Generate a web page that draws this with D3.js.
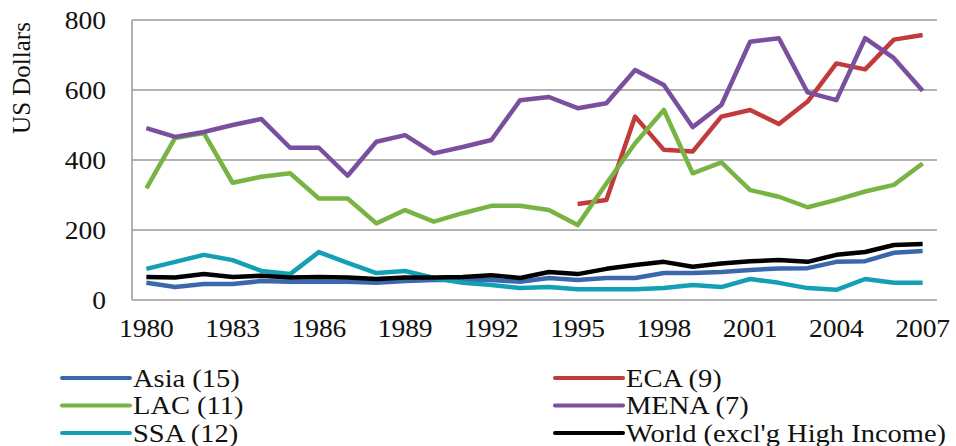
<!DOCTYPE html>
<html>
<head>
<meta charset="utf-8">
<script src="https://cdn.jsdelivr.net/npm/d3@7"></script>
<style>
  body { margin: 0; background: #fff; }
</style>
</head>
<body>
<div id="chart"></div>
<script>
// Years on the category axis
const years = d3.range(1980, 2008);
const tickYears = [1980, 1983, 1986, 1989, 1992, 1995, 1998, 2001, 2004, 2007];
const yTicks = [0, 200, 400, 600, 800];

// Series values (US dollars)
const asia = [49, 37, 46, 46, 54, 52, 52, 52, 49, 54, 57, 57, 57, 52, 63, 57, 63, 63, 77, 77, 80, 86, 90, 91, 109, 111, 135, 140];
const eca = [null, null, null, null, null, null, null, null, null, null, null, null, null, null, null,
             274, 286, 524, 429, 424, 524, 543, 503, 567, 676, 659, 744, 757];
const lac = [319, 463, 477, 335, 352, 362, 290, 290, 219, 257, 224, 248, 269, 269, 257, 214, 333, 448, 543, 362, 393, 314, 295, 265, 286, 310, 329, 390];
const mena = [491, 466, 480, 500, 517, 435, 435, 355, 452, 471, 419, 437, 457, 571, 580, 548, 562, 657, 614, 494, 557, 738, 748, 593, 571, 748, 691, 598];
const ssa = [89, 109, 129, 114, 83, 74, 137, 106, 77, 83, 63, 49, 43, 34, 37, 31, 31, 31, 34, 43, 37, 60, 49, 34, 29, 60, 49, 49];
const world = [66, 64, 74, 66, 69, 64, 66, 64, 60, 64, 64, 66, 71, 63, 80, 74, 89, 100, 109, 95, 104, 111, 114, 109, 129, 137, 157, 160];

const seriesNames = ["Asia (15)", "ECA (9)", "LAC (11)", "MENA (7)", "SSA (12)", "World (excl'g High Income)"];
const seriesColors = ["#3a68ac", "#c23a3b", "#77b443", "#7a4f9e", "#14a0b4", "#000000"];

const series = [asia, eca, lac, mena, ssa, world].map((vals, i) => ({
    name: seriesNames[i],
    color: seriesColors[i],
    values: vals
}));

const width = 956;
const height = 446;
const margin = { left: 132, right: 19, top: 20, bottom: 146 };
const FONT = "Times New Roman, Times, Liberation Serif, Tinos, DejaVu Serif, serif";
const STRETCH = 1.1; // the original text is a little wider than it is tall

const svg = d3.select("#chart").append("svg")
    .attr("width", width)
    .attr("height", height);

// Category scale: points sit in the middle of each year's band
const x = d3.scalePoint()
    .domain(years)
    .range([margin.left, width - margin.right])
    .padding(0.5);

const y = d3.scaleLinear()
    .domain([0, 800])
    .range([height - margin.bottom, margin.top]);

// Gridlines
svg.append("g")
    .selectAll("line")
    .data(yTicks)
    .enter()
    .append("line")
    .attr("x1", margin.left)
    .attr("x2", width - margin.right)
    .attr("y1", d => y(d))
    .attr("y2", d => y(d))
    .attr("stroke", "#9a9a9a")
    .attr("stroke-width", 1.5);

// Left axis line
svg.append("line")
    .attr("x1", margin.left)
    .attr("x2", margin.left)
    .attr("y1", y(800))
    .attr("y2", y(0))
    .attr("stroke", "#9a9a9a")
    .attr("stroke-width", 1.5);

// Y tick labels
svg.append("g")
    .selectAll("text")
    .data(yTicks)
    .enter()
    .append("text")
    .attr("transform", d => `translate(106,${y(d)}) scale(${STRETCH},1)`)
    .attr("dy", "0.35em")
    .attr("text-anchor", "end")
    .style("font-family", FONT)
    .style("font-size", "25px")
    .attr("fill", "#111")
    .text(d => d);

// X tick labels
svg.append("g")
    .selectAll("text")
    .data(tickYears)
    .enter()
    .append("text")
    .attr("transform", d => `translate(${x(d)},337) scale(${STRETCH},1)`)
    .attr("text-anchor", "middle")
    .style("font-family", FONT)
    .style("font-size", "25px")
    .attr("fill", "#111")
    .text(d => d);

// Y axis title
svg.append("text")
    .attr("transform", "translate(30,78) rotate(-90)")
    .attr("text-anchor", "middle")
    .style("font-family", FONT)
    .style("font-size", "25px")
    .attr("fill", "#111")
    .text("US Dollars");

// Lines
const line = d3.line()
    .defined(d => d.v != null)
    .x(d => x(d.year))
    .y(d => y(d.v));

svg.append("g")
    .selectAll("path")
    .data(series)
    .enter()
    .append("path")
    .attr("fill", "none")
    .attr("stroke", d => d.color)
    .attr("stroke-width", 4.5)
    .attr("stroke-linejoin", "round")
    .attr("d", d => line(d.values.map((v, i) => ({ year: years[i], v: v }))));

// Legend: two columns, three rows
const legend = svg.append("g")
    .selectAll("g")
    .data(series)
    .enter()
    .append("g")
    .attr("transform", (d, i) => `translate(${i % 2 === 0 ? 62 : 555},${378 + Math.floor(i / 2) * 27.5})`);

legend.append("line")
    .attr("x1", 0)
    .attr("x2", 68)
    .attr("y1", 0)
    .attr("y2", 0)
    .attr("stroke", d => d.color)
    .attr("stroke-width", 4)
    .attr("stroke-linecap", "round");

legend.append("text")
    .attr("transform", "translate(71,0) scale(1.14,1)")
    .attr("dy", "0.35em")
    .style("font-family", FONT)
    .style("font-size", "25px")
    .attr("fill", "#111")
    .text(d => d.name);
</script>
</body>
</html>
